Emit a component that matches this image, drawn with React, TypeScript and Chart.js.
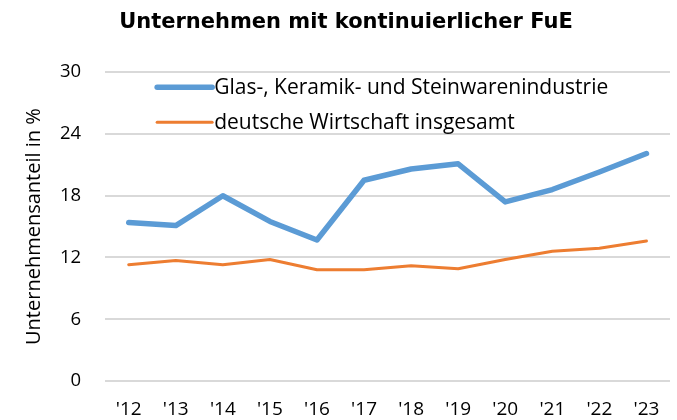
import React, { useEffect, useRef } from "react";
import { Chart, registerables } from "chart.js";

Chart.register(...registerables);

const titleText = "Unternehmen mit kontinuierlicher FuE";
const yAxisTitle = "Unternehmensanteil in %";
const categories = ["'12", "'13", "'14", "'15", "'16", "'17", "'18", "'19", "'20", "'21", "'22", "'23"];
const seriesGlas = [15.4, 15.1, 18.0, 15.5, 13.7, 19.5, 20.6, 21.1, 17.4, 18.6, 20.3, 22.1];
const seriesGesamt = [11.3, 11.7, 11.3, 11.8, 10.8, 10.8, 11.2, 10.9, 11.8, 12.6, 12.9, 13.6];
const labelGlas = "Glas-, Keramik- und Steinwarenindustrie";
const labelGesamt = "deutsche Wirtschaft insgesamt";

const tickFont = "'Open Sans', 'Liberation Sans', sans-serif";

const insideLegend = {
  id: "insideLegend",
  afterDraw(chart: any) {
    const ctx = chart.ctx;
    const area = chart.chartArea;
    ctx.save();
    chart.data.datasets.forEach((ds: any, i: number) => {
      const y = area.top + 15 + i * 35;
      const x0 = area.left + 52;
      const x1 = x0 + 55;
      ctx.strokeStyle = ds.borderColor;
      ctx.lineWidth = ds.borderWidth;
      ctx.lineCap = "round";
      ctx.beginPath();
      ctx.moveTo(x0, y);
      ctx.lineTo(x1, y);
      ctx.stroke();
      ctx.fillStyle = "#000";
      ctx.font = `21px ${tickFont}`;
      ctx.textBaseline = "middle";
      ctx.textAlign = "left";
      ctx.fillText(ds.label, x1 + 2, y + 1);
    });
    ctx.restore();
  },
};

export default function App() {
  const ref = useRef<HTMLCanvasElement | null>(null);
  useEffect(() => {
    document.body.style.margin = "0";
    const chart = new Chart(ref.current as HTMLCanvasElement, {
      type: "line",
      data: {
        labels: categories,
        datasets: [
          {
            label: labelGlas,
            data: seriesGlas,
            borderColor: "#5b9bd5",
            borderWidth: 5.5,
            pointRadius: 0,
            tension: 0,
            borderCapStyle: "round",
            borderJoinStyle: "round",
          },
          {
            label: labelGesamt,
            data: seriesGesamt,
            borderColor: "#ed7d31",
            borderWidth: 3,
            pointRadius: 0,
            tension: 0,
            borderCapStyle: "round",
            borderJoinStyle: "round",
          },
        ],
      },
      options: {
        animation: false,
        responsive: false,
        maintainAspectRatio: false,
        layout: { padding: { top: 0, right: 7, bottom: 1, left: 22 } },
        plugins: {
          legend: { display: false },
          tooltip: { enabled: false },
          title: {
            display: true,
            text: titleText,
            color: "#000",
            font: { family: "'DejaVu Sans', Verdana, sans-serif", size: 21, weight: "bold", lineHeight: 1.2 },
            padding: { top: 10, bottom: 37 },
          },
        },
        scales: {
          x: {
            offset: true,
            grid: { display: false, drawTicks: true, tickLength: 19, tickColor: "rgba(0,0,0,0)" },
            border: { display: false },
            ticks: {
              color: "#000",
              font: { family: tickFont, size: 19, lineHeight: 1 },
              padding: 0,
              maxRotation: 0,
            },
          },
          y: {
            min: 0,
            max: 30,
            ticks: { stepSize: 6, color: "#000", font: { family: tickFont, size: 18.5 }, padding: 0 },
            grid: { color: "#d9d9d9", lineWidth: 2, drawTicks: true, tickLength: 24, tickColor: "rgba(0,0,0,0)" },
            border: { display: false },
            title: {
              display: true,
              text: yAxisTitle,
              color: "#000",
              font: { family: tickFont, size: 20, lineHeight: 1.2 },
              padding: { top: 0, bottom: 14 },
            },
          },
        },
      },
      plugins: [insideLegend],
    });
    return () => chart.destroy();
  }, []);
  return (
    <div style={{ width: 677, height: 420 }}>
      <canvas ref={ref} width={677} height={420} style={{ display: "block" }} />
    </div>
  );
}
